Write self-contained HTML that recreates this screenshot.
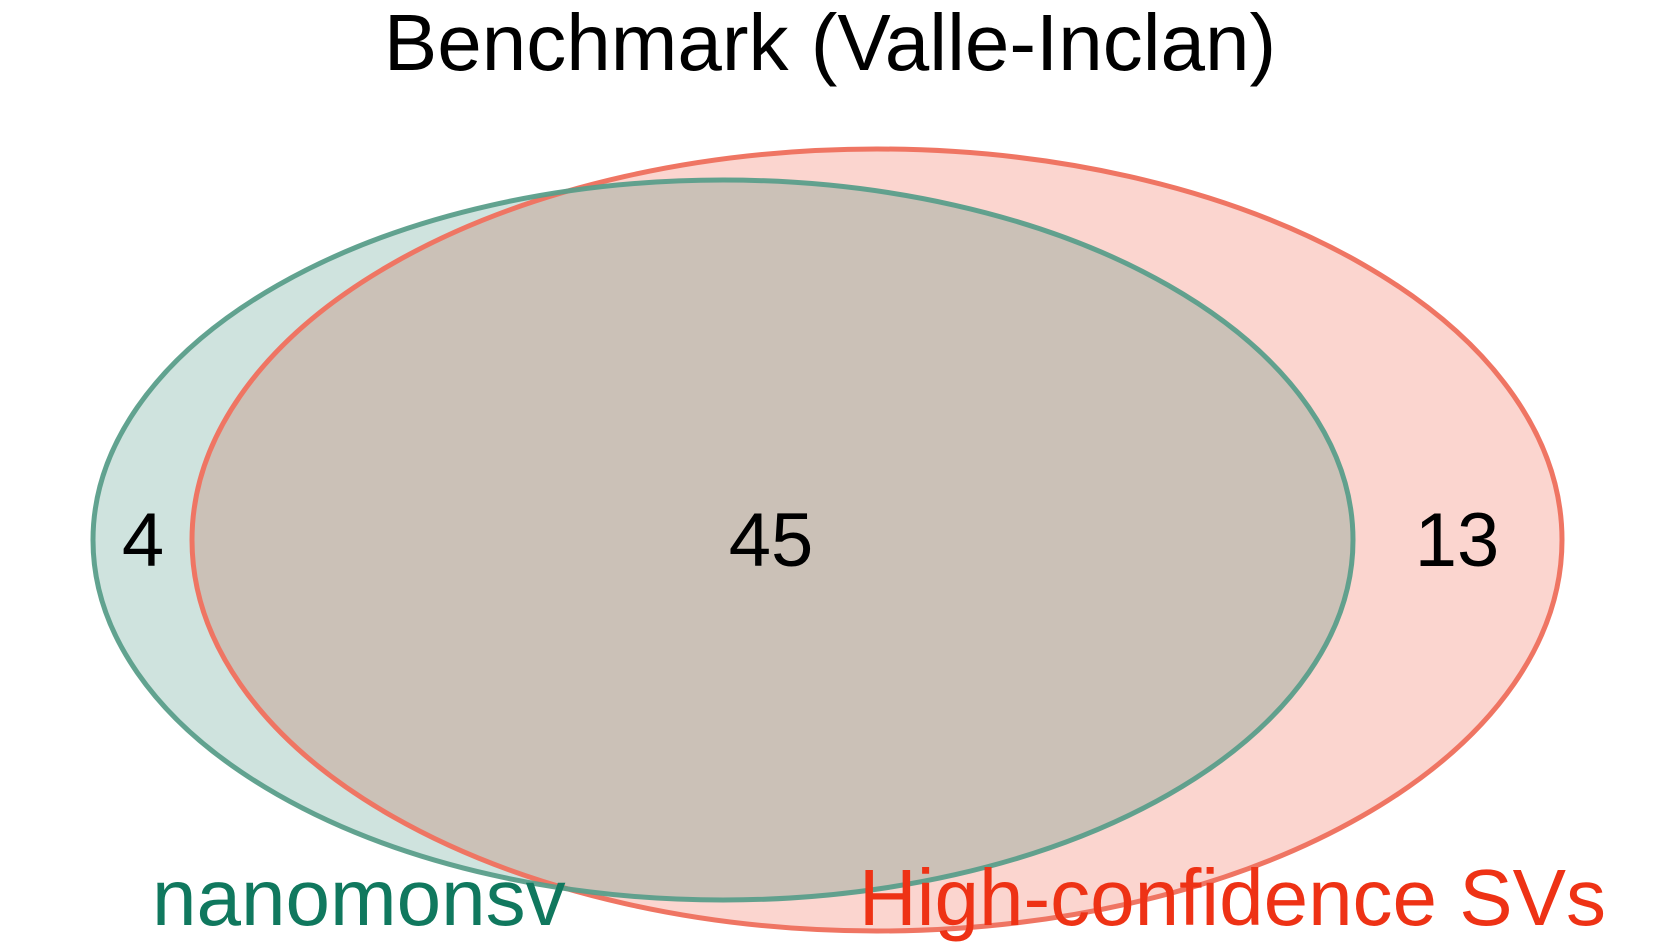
<!DOCTYPE html>
<html><head><meta charset="utf-8"><style>
html,body{margin:0;padding:0;background:#fff}
svg{display:block}
text{font-family:"Liberation Sans",sans-serif}
</style></head><body>
<svg width="1653" height="944" viewBox="0 0 1653 944">
<defs><clipPath id="gclip"><ellipse cx="723" cy="540" rx="630" ry="360"/></clipPath></defs>
<text x="830" y="70" font-size="80" text-anchor="middle" fill="#000">Benchmark (Valle-Inclan)</text>
<g id="venn"></g>
</svg>
<script>
const setLabels = ["nanomonsv", "High-confidence SVs"];
const regionCounts = [4, 45, 13];
const svgNS = "http://www.w3.org/2000/svg";
const g = document.getElementById('venn');
function mk(tag, attrs){const e=document.createElementNS(svgNS,tag);for(const k in attrs)e.setAttribute(k,attrs[k]);g.appendChild(e);return e;}
let e;
e = mk('ellipse',{cx:723,cy:540,rx:630,ry:360,fill:'#cfe3de'});


e = mk('ellipse',{cx:877,cy:540,rx:685,ry:391,fill:'#fbd5cf'});


e = mk('ellipse',{cx:877,cy:540,rx:685,ry:391,fill:'#cbc1b7','clip-path':'url(#gclip)'});


e = mk('ellipse',{cx:877,cy:540,rx:685,ry:391,fill:'none',stroke:'#ef7563','stroke-width':5});


e = mk('ellipse',{cx:723,cy:540,rx:630,ry:360,fill:'none',stroke:'#5a9e8a','stroke-width':5,'stroke-opacity':0.95});


const countX = [143, 771, 1457];
const countNames = ['count-nanomonsv-only','count-intersection','count-high-confidence-only'];
regionCounts.forEach((v,i)=>{
  const t = mk('text',{x:countX[i],y:566,'font-size':76,'text-anchor':'middle',fill:'#000'});
  t.textContent = v;
  
  
});
let t1 = mk('text',{x:152,y:925,'font-size':80,fill:'#10785e'});
t1.textContent = setLabels[0];


let t2 = mk('text',{x:1606,y:925,'font-size':80,'text-anchor':'end',fill:'#ee3215'});
t2.textContent = setLabels[1];


</script>
</body></html>
